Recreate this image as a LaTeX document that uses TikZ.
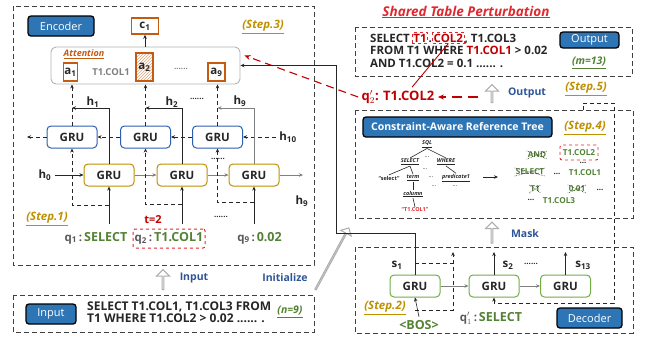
\documentclass[tikz,border=0pt]{standalone}
\usepackage{fontspec}
\setmainfont{Open Sans}
\usetikzlibrary{arrows.meta,patterns,shapes.arrows,shapes.misc,calc}

\definecolor{tagblue}{HTML}{2E75B6}
\definecolor{gblue}{HTML}{2F5FB3}
\definecolor{gold}{HTML}{BF9000}
\definecolor{ggreen}{HTML}{70AD47}
\definecolor{tgreen}{HTML}{548235}
\definecolor{orng}{HTML}{C55A11}
\definecolor{dred}{HTML}{C00000}
\definecolor{rred}{HTML}{E0282E}
\definecolor{tblue}{HTML}{2F5597}
\definecolor{qgray}{HTML}{595959}
\definecolor{ink}{HTML}{262626}

\newcommand\fsz[1]{\fontsize{#1}{#1}\selectfont}
\newcommand\sub[1]{\textsubscript{#1}}

\begin{document}
\begin{tikzpicture}[x=1pt,y=-1pt,
  frame/.style={draw=black!75, dash pattern=on 5pt off 3pt, line width=0.9pt},
  tag/.style={draw=black, line width=1.3pt, fill=tagblue, rounded corners=3pt,
    text=white, font=\fsz{11}, inner sep=0pt},
  grub/.style={draw=gblue, line width=1pt, rounded corners=4pt, fill=white,
    minimum width=50pt, minimum height=22pt, font=\fsz{11.5}\bfseries,
    text=ink, inner sep=0pt},
  gruo/.style={grub, draw=gold},
  grug/.style={grub, draw=ggreen},
  steplab/.style={font=\fsz{11.5}\bfseries\itshape, text=gold},
  cntlab/.style={font=\fsz{10.5}\bfseries\itshape, text=tgreen},
  arr/.style={-{Stealth[length=4pt,width=3.5pt]}, draw=ink, line width=0.6pt},
  darr/.style={arr, dash pattern=on 4pt off 3pt},
  garr/.style={arr, draw=gray},
  hollow/.style={single arrow, draw=gray!65, line width=1pt, fill=white,
    minimum width=13pt, single arrow head extend=3.5pt, inner sep=0pt},
  abox/.style={draw=orng, line width=1.3pt, fill=white, inner sep=0pt,
    font=\fsz{11.5}\bfseries, text=ink},
  hlab/.style={font=\fsz{11.5}\bfseries, text=ink},
  qlab/.style={font=\fsz{11.5}\bfseries, text=qgray},
  bluetxt/.style={font=\fsz{10.5}\bfseries, text=tblue},
  sqlt/.style={font=\fsz{11.5}\bfseries, text=ink, inner sep=0pt},
  rbx/.style={draw=rred, dashed, line width=0.8pt, inner sep=1pt,
    font=\fsz{11.5}\bfseries, text=dred},
  tw/.style={font=\fsz{5.5}\bfseries\itshape, text=ink, inner sep=0.8pt},
  tl/.style={draw=ink, line width=0.6pt},
  gw/.style={font=\fsz{8.2}\bfseries, text=tgreen, inner sep=0.8pt},
  xw/.style={gw, cross out, draw=ink, densely dotted, line width=0.6pt},
  dots/.style={font=\fsz{8}\bfseries, text=ink, inner sep=0pt}
]
\useasboundingbox (0,0) rectangle (646,341);

% ---------------- encoder -----------------
\draw[frame] (13,6) rectangle (314,265);
\node[tag, minimum width=66pt, minimum height=20pt] (encL) at (61,26) {Encoder};
\node[steplab] (st3) at (263,27) {\underline{(Step.3)}};

\node[draw=gray!60, line width=0.9pt, rounded corners=5pt, minimum width=189pt,
      minimum height=37pt, fill=white] (att) at (145.5,65.5) {};
\node[font=\fsz{9}\bfseries\itshape, text=orng] (attT) at (84,54) {\underline{Attention}};
\node[abox, minimum width=14pt, minimum height=18pt] (a1) at (70.5,72) {a\sub{1}};
\node[abox, minimum width=17pt, minimum height=28pt, pattern=north east lines,
      pattern color=orng!55] (a2) at (144.5,67) {a\sub{2}};
\node[abox, minimum width=17pt, minimum height=18pt] (a9) at (216.5,72) {a\sub{9}};
\node[font=\fsz{9.5}\bfseries, text=gray] (attC) at (111,72) {T1.COL1};
\node[dots, text=gray] (attD) at (181,69) {......};

\node[abox, minimum width=27pt, minimum height=16pt, line width=1.5pt] (c1) at (145,26) {c\sub{1}};
\draw[arr] (c1 |- att.north) -- (c1.south);

% backward GRUs
\node[grub] (bB1) at (72,137) {GRU};
\node[grub] (bB2) at (145.5,137) {GRU};
\node[grub] (bB3) at (217.5,137) {GRU};
% forward GRUs
\node[gruo] (oG1) at (109,175) {GRU};
\node[gruo] (oG2) at (182,175) {GRU};
\node[gruo] (oG3) at (254,175) {GRU};

\node[hlab] (h0) at (45,175) {h\sub{0}};
\node[hlab] (h10) at (288,137) {h\sub{10}};
\node[hlab] (h9b) at (302,201) {h\sub{9}};
\node[hlab] (h1) at (93,102) {h\sub{1}};
\node[hlab] (h2) at (172,102) {h\sub{2}};
\node[hlab] (h9) at (240,101) {h\sub{9}};
\node[dots] (hD) at (197,99) {......};
\node[dots] (mD) at (218,159) {......};
\node[dots] (qD) at (221,217) {......};
\coordinate (fOut) at (303,175);
\coordinate (bOut) at (27,137);

% forward chain
\draw[arr] (h0.east) -- (oG1.west);
\draw[garr] (oG1.east) -- (oG2.west);
\draw[garr] (oG2.east) -- (oG3.west);
\draw[garr] (oG3.east) -- (fOut);
% backward chain
\draw[darr] (h10.west) -- (bB3.east);
\draw[darr] (bB3.west) -- (bB2.east);
\draw[darr] (bB2.west) -- (bB1.east);
\draw[darr] (bB1.west) -- (bOut);

% forward states joined to backward states
\coordinate (hrow) at (0,108);
\draw[arr] (oG1.north) |- (bB1 |- hrow);
\draw[arr] (oG2.north) |- (bB2 |- hrow);
\draw[arr, draw=gray] (oG3.north) |- (bB3 |- hrow);
% concatenated states into attention
\draw[darr] (bB1.north) -- (bB1 |- att.south);
\draw[darr] (bB2.north) -- (bB2 |- att.south);
\draw[darr] (bB3.north) -- (bB3 |- att.south);

% inputs
\node[qlab] (q1) at (96,238) {q\sub{1}\,:\,{\fsz{12.5}\color{tgreen}SELECT}};
\node[qlab, draw=rred, dashed, rounded corners=2pt, line width=1pt,
      minimum width=72pt, minimum height=19pt, inner sep=1pt] (q2) at (169,238.5)
      {q\sub{2}\,:\,{\fsz{12.5}\color{tgreen}T1.COL1}};
\node[qlab] (q9) at (259.5,238) {q\sub{9}\,:\,{\fsz{12.5}\color{tgreen}0.02}};
\node[font=\fsz{11}\bfseries, text=dred] (t2) at (153,220) {t=2};
\node[steplab] (st1) at (47,219) {\underline{(Step.1)}};

\coordinate (in1) at (109,224);
\coordinate (in2) at (182,224);
\coordinate (in3) at (254,224);
\coordinate (br1) at (109,205);
\coordinate (br2) at (182,204);
\coordinate (br3) at (254,202);
\draw[arr] (in1) -- (oG1.south);
\draw[arr] (in2) -- (oG2.south);
\draw[arr] (in3) -- (oG3.south);
\draw[darr] (br1) -| (bB1.south);
\draw[darr] (br2) -| (bB2.south);
\draw[darr] (br3) -| (bB3.south);

% ---------------- input -----------------
\node[hollow, minimum height=20pt, rotate=90] (inA) at (163,280) {};
\node[bluetxt] (inT) at (194,278) {Input};
\node[bluetxt] (iniT) at (285,278) {Initialize};
\node[hollow, minimum height=70pt, minimum width=12pt, rotate=61.6] (iniA) at (332,259) {};

\draw[frame] (13,295) rectangle (314,332);
\node[tag, minimum width=50pt, minimum height=20pt] (inL) at (51,314) {Input};
\node[sqlt, font=\fsz{12}\bfseries, anchor=base west] (iL1) at (87,310.5) {SELECT T1.COL1, T1.COL3 FROM};
\node[sqlt, font=\fsz{12}\bfseries, anchor=base west] (iL2) at (87,322.5) {T1 WHERE T1.COL2 > 0.02 ...... .};
\node[cntlab] (nCnt) at (290,312) {\underline{(n=9)}};

% ---------------- output -----------------
\node[font=\fsz{13.5}\bfseries\itshape, text=rred] (title) at (466,12) {\underline{Shared Table Perturbation}};
\draw[frame] (355,27) rectangle (632,76);
\node[sqlt, anchor=base west] (oS) at (370,42) {SELECT\,};
\node[rbx, anchor=base west] (oT1) at (oS.base east) {T1};
\node[sqlt, anchor=base west, inner sep=0.3pt] (oDot) at (oT1.base east) {.};
\node[rbx, anchor=base west] (oC2) at (oDot.base east) {COL2};
\node[sqlt, anchor=base west] (oRest) at (oC2.base east) {, T1.COL3};
\node[sqlt, anchor=base west] (oL2) at (370,54.5) {FROM T1 WHERE {\color{dred}T1.COL1} > 0.02};
\node[sqlt, anchor=base west] (oL3) at (370,67) {AND T1.COL2 = 0.1 ...... .};
\node[tag, minimum width=59pt, minimum height=16pt] (outL) at (589.5,40) {Output};
\node[cntlab] (mCnt) at (589,63) {\underline{(m=13)}};

\node[font=\fsz{13}\bfseries, text=dred] (q2p) at (398,97) {q$'_{2}$: T1.COL2};
\coordinate (redS) at (478,97);
\draw[-{Stealth[length=6pt,width=5pt]}, draw=dred, line width=1.1pt,
      dash pattern=on 10pt off 6pt] (redS) -- (q2p.east);
\draw[-{Stealth[length=6pt,width=5pt]}, draw=dred, line width=1.1pt,
      dash pattern=on 8pt off 5pt] (q2p.west) -- ([xshift=4pt,yshift=10pt]att.east);
\draw[draw=dred, line width=0.9pt] ([xshift=14pt]q2p.north) -- (oC2.south);

\node[hollow, minimum height=18pt, rotate=90] (outA) at (492,94) {};
\node[bluetxt] (outT) at (527,93) {Output};
\node[steplab] (st5) at (586,89) {\underline{(Step.5)}};

% ---------------- reference tree -----------------
\draw[frame] (355,110) rectangle (633,218);
\node[tag, minimum width=189pt, minimum height=20pt, font=\fsz{10.5}\bfseries] (treeL) at (457.5,127) {Constraint-Aware Reference Tree};
\node[steplab] (st4) at (585,128) {\underline{(Step.4)}};

\node[tw] (tSQL) at (427,144) {\underline{SQL}};
\node[tw] (tSEL) at (410,162) {\underline{SELECT}};
\node[tw] (tWHE) at (446,162) {\underline{WHERE}};
\node[dots, font=\fsz{6}] (tD1) at (427,157) {...};
\node[tw, font=\fsz{5.5}\bfseries] (tsel) at (389,178) {“select”};
\node[tw] (tterm) at (413,178) {\underline{term}};
\node[dots, font=\fsz{6}] (tD2) at (425,169) {...};
\node[dots, font=\fsz{6}] (tD3) at (431,177) {...};
\node[tw] (tpred) at (456,178) {\underline{predicate1}};
\node[dots, font=\fsz{6}] (tD4) at (434,186) {...};
\node[dots, font=\fsz{6}] (tD5) at (455,186) {...};
\node[tw] (tcol) at (413,194) {\underline{column}};
\node[tw, font=\fsz{5.5}\bfseries, text=rred] (tT1) at (415,210) {“T1.COL1”};
\draw[tl] (tSQL.south) -- (tSEL.north);
\draw[tl] (tSQL.south) -- (tWHE.north);
\draw[tl] (tSEL.south) -- (tsel.north);
\draw[tl] (tSEL.south) -- (tterm.north);
\draw[tl] (tWHE.south) -- (tpred.north);
\draw[tl] (tterm.south) -- (tcol.north);
\draw[tl] (tcol.south) -- (tT1.north);

\coordinate (ta1) at (483,177);
\coordinate (ta2) at (498,177);
\draw[arr, line width=0.9pt] (ta1) -- (ta2);

\node[xw] (wAND) at (537,155) {AND};
\node[gw, draw=rred, dashed, rounded corners=2pt, line width=0.9pt,
      minimum width=38pt, minimum height=15pt] (wC2) at (579,152.5) {T1.COL2};
\node[dots] (wD1) at (583,163) {...};
\node[xw] (wSEL) at (530,172) {SELECT};
\node[dots] (wD2) at (557,174) {...};
\node[gw] (wC1) at (585,173) {T1.COL1};
\node[xw] (wT1) at (535,189) {T1};
\node[xw] (w001) at (577,189) {0.01};
\node[dots] (wD3) at (600,190) {...};
\node[dots] (wD4) at (531,200) {...};
\node[gw] (wC3) at (559,201) {T1.COL3};

% ---------------- decoder -----------------
\node[hollow, minimum height=21pt, rotate=90] (maskA) at (492,233) {};
\node[bluetxt] (maskT) at (525,234) {Mask};

\draw[frame] (355,247) rectangle (633,333);
\node[tag, minimum width=65pt, minimum height=20pt] (decL) at (589.5,318) {Decoder};
\node[grug] (dG1) at (415,286) {GRU};
\node[grug] (dG2) at (494,286) {GRU};
\node[grug] (dG3) at (565.5,286) {GRU};
\draw[garr] (dG1.east) -- (dG2.west);
\draw[garr] (dG2.east) -- (dG3.west);

\node[hlab] (s1) at (397,265) {s\sub{1}};
\node[hlab] (s2) at (508,265) {s\sub{2}};
\node[dots] (sD) at (531,264) {......};
\node[hlab] (s13) at (583,265) {s\sub{13}};
\coordinate (up2) at (494,252);
\coordinate (up3) at (565.5,252);
\draw[arr] (dG2.north) -- (up2);
\draw[arr] (dG3.north) -- (up3);

\node[font=\fsz{12.5}\bfseries, text=tgreen] (bos) at (419,325) {<BOS>};
\node[steplab] (st2) at (385,308) {\underline{(Step.2)}};
\node[qlab] (qp1) at (491,318) {q$'_{1}$\,:\,{\fsz{12.5}\color{tgreen}SELECT}};
\draw[arr] (bos.north) -- (dG1.south);

\coordinate (sb1) at (415,263);
\coordinate (sb2) at (415,310);
\coordinate (sbT) at (453,252);
\draw[darr] (sb2) -| (sbT);
\draw[dash pattern=on 4pt off 3pt, draw=ink, line width=0.6pt] (sb1) -- (sbT |- sb1);

% decoder state into attention
\coordinate (jn) at (336,233);
\draw[arr] (dG1.north) |- (jn) |- (att.east);

% feedback of the chosen column into the next step
\coordinate (fbk) at (583,110);
\coordinate (fbkR) at (614,303);
\draw[darr] (fbk) -- ++(0,-7) -| (fbkR) -| (dG2.south);
\end{tikzpicture}
\end{document}
